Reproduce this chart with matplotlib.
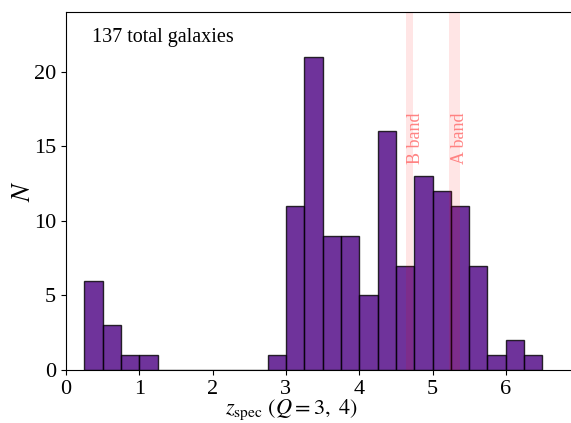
import matplotlib
matplotlib.use("Agg")
import matplotlib.pyplot as plt
import numpy as np

plt.rcParams['font.family'] = ['Liberation Serif', 'DejaVu Serif']
plt.rcParams['mathtext.fontset'] = 'stix'

bin_edges = [0.25, 0.5, 0.75, 1.0, 1.25, 1.5, 1.75, 2.0, 2.25, 2.5, 2.75, 3.0, 3.25,
             3.5, 3.75, 4.0, 4.25, 4.5, 4.75, 5.0, 5.25, 5.5, 5.75, 6.0, 6.25, 6.5]
counts = [6, 3, 1, 1, 0, 0, 0, 0, 0, 0, 1, 11, 21, 9, 9, 5, 16, 7, 13, 12, 11, 7, 1, 2, 1]
b_band = (4.64, 4.73)
a_band = (5.22, 5.38)
total_label = "137 total galaxies"

W, H = 571, 423
fig = plt.figure(figsize=(W / 100, H / 100), dpi=100)
px_per_unit = 73.3
ax = fig.add_axes([66 / W, 1 - 370 / H, 7 * px_per_unit / W, 358 / H])

centers = np.array(bin_edges[:-1]) + 0.125
ax.hist(centers, bins=bin_edges, weights=counts, color='indigo', alpha=0.8,
        edgecolor='k', linewidth=1.0)

ax.axvspan(*b_band, color='red', alpha=0.1, lw=0)
ax.axvspan(*a_band, color='red', alpha=0.1, lw=0)
ax.text(b_band[0] + 0.01, 13.8, "B band", rotation=90, color='#ff7777', fontsize=13,
        ha='left', va='bottom', alpha=0.9)
ax.text(a_band[0] + 0.03, 13.8, "A band", rotation=90, color='#ff7777', fontsize=13,
        ha='left', va='bottom', alpha=0.9)

ax.text(0.05, 0.955, total_label, transform=ax.transAxes, fontsize=14.5,
        ha='left', va='top')

ax.set_xlim(0, 7)
ax.set_ylim(0, 24)
ax.set_xticks([0, 1, 2, 3, 4, 5, 6])
ax.set_yticks([0, 5, 10, 15, 20])
ax.tick_params(labelsize=16)
ax.set_xlabel(r"$z_{\rm spec}$ $(Q=3,\ 4)$", fontsize=16)
ax.set_ylabel(r"$N$", fontsize=19)
ax.xaxis.set_label_coords((291 - 66) / (7 * px_per_unit), -0.078)
ax.yaxis.set_label_coords(-0.06, 0.5)

fig.savefig("out.png", dpi=100)
